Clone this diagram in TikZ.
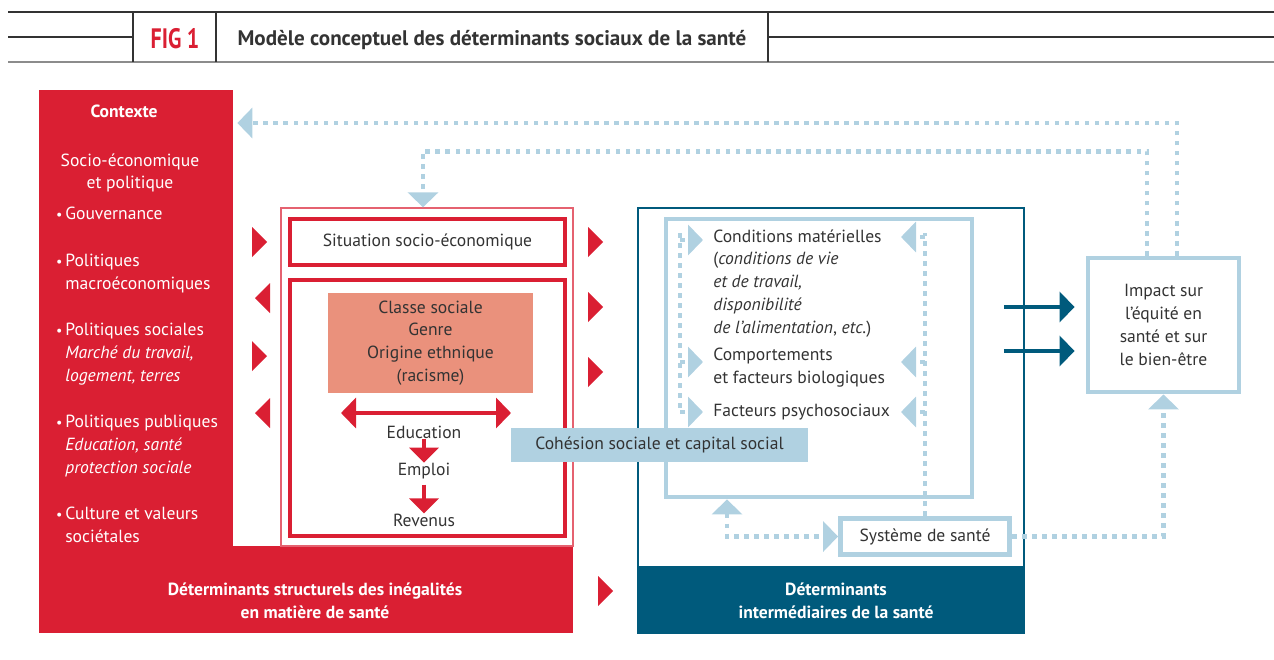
\documentclass[tikz,border=0pt]{standalone}
\usepackage{fontspec}
\setmainfont{PT Sans}
\usetikzlibrary{arrows.meta,positioning,calc}

\definecolor{sdhred}{HTML}{DA1F33}
\definecolor{sdhsalmon}{HTML}{EA917C}
\definecolor{sdhblue}{HTML}{005A7C}
\definecolor{sdhlight}{HTML}{B0D1E1}
\definecolor{sdhtext}{HTML}{333333}

\tikzset{
  txt/.style={text=sdhtext, inner sep=0pt, font=\fontsize{10}{13}\selectfont},
  wtxt/.style={text=white, inner sep=0pt, align=center, font=\fontsize{10}{13}\selectfont\bfseries},
  redbox/.style={draw=sdhred, line width=2.8pt, inner sep=0pt},
  lightbox/.style={draw=sdhlight, line width=2.8pt, inner sep=0pt},
  dotline/.style={sdhlight, line width=2.6pt, dash pattern=on 2.6pt off 3.1pt},
  bigtip/.style={-{Triangle[length=0.3cm,width=0.6cm]}},
  bothtips/.style={{Triangle[length=0.3cm,width=0.6cm]}-{Triangle[length=0.3cm,width=0.6cm]}},
}

\begin{document}
\begin{tikzpicture}[x=0.02cm, y=-0.02cm]
\useasboundingbox (0,0) rectangle (1274,659);

% header
\draw[sdhtext, line width=0.6pt] (8,12) -- (1274,12);
\draw[sdhtext, line width=0.6pt] (8,37) -- (133,37) (768,37) -- (1274,37);
\draw[black!45, line width=1.3pt] (8,62) -- (1274,62);
\draw[sdhtext, line width=0.6pt] (133,12) -- (133,62) (216,12) -- (216,62) (768,12) -- (768,62);
\node[txt, text=sdhred, font=\fontsize{16}{16}\selectfont\bfseries] (fig) at (175,39) {\scalebox{0.78}[1]{FIG 1}};
\node[txt, font=\fontsize{12}{14}\selectfont\bfseries] (title) at (492,40) {Modèle conceptuel des déterminants sociaux de la santé};

% contexte
\node[fill=sdhred, minimum width=3.88cm, minimum height=9.12cm, inner sep=0pt] (ctx) at (136,318) {};
\node[fill=sdhred, minimum width=10.68cm, minimum height=1.74cm, inner sep=0pt] (band) at (306,589.5) {};
\node[wtxt] (ctxhead) at (124,111) {Contexte};
\node[txt, text=white, align=center, anchor=north] (ctxsub) at (130,153) {Socio-économique\\et politique};
\node[txt, text=white, align=left, anchor=north west] (gov) at (65,207) {\llap{{\footnotesize\textbullet}\,}Gouvernance};
\node[txt, text=white, align=left, anchor=north west] (macro) at (65,254) {\llap{{\footnotesize\textbullet}\,}Politiques\\macroéconomiques};
\node[txt, text=white, align=left, anchor=north west] (soc) at (65,323) {\llap{{\footnotesize\textbullet}\,}Politiques sociales\\\textit{Marché du travail,}\\\textit{logement, terres}};
\node[txt, text=white, align=left, anchor=north west] (pub) at (65,415) {\llap{{\footnotesize\textbullet}\,}Politiques publiques\\\textit{Education, santé}\\\textit{protection sociale}};
\node[txt, text=white, align=left, anchor=north west] (cult) at (65,507) {\llap{{\footnotesize\textbullet}\,}Culture et valeurs\\sociétales};
\node[wtxt] (bandtxt) at (315,600.5) {Déterminants structurels des inégalités\\en matière de santé};

% determinants structurels
\node[draw=sdhred!70, line width=0.8pt, minimum width=5.84cm, minimum height=6.76cm, inner sep=0pt] (struct) at (427,377) {};
\node[redbox, txt, minimum width=5.5cm, minimum height=0.92cm] (sit) at (427.5,242) {Situation socio-économique};
\node[redbox, minimum width=5.5cm, minimum height=5.12cm] (pos) at (427.5,408) {};
\node[txt, fill=sdhsalmon, align=center, minimum width=4.1cm, minimum height=2cm] (grp) at (430.5,343) {Classe sociale\\Genre\\Origine ethnique\\(racisme)};
\coordinate (eduL) at (341,413);
\coordinate (eduR) at (511,413);
\draw[sdhred, line width=2.8pt, bothtips] (eduL) -- (eduR);
\node[txt] (edu) at (424,432) {Education};
\node[txt] (emp) at (424,471) {Emploi};
\node[txt] (rev) at (424,520) {Revenus};
\draw[sdhred, line width=2.8pt, -{Triangle[length=0.3cm,width=0.58cm]}] (edu.south) -- (emp.north);
\draw[sdhred, line width=2.8pt, -{Triangle[length=0.3cm,width=0.58cm]}, shorten <=3pt] (emp.south) -- (rev.north);

% determinants intermediaires
\node[draw=sdhblue, line width=0.9pt, minimum width=7.72cm, minimum height=8.5cm, inner sep=0pt] (inter) at (831,420.5) {};
\node[fill=sdhblue, minimum width=7.72cm, minimum height=1.34cm, inner sep=0pt] (interband) at (831,599.5) {};
\node[wtxt] (intertxt) at (836,600.5) {Déterminants\\intermédiaires de la santé};
\node[lightbox, minimum width=6.12cm, minimum height=5.56cm] (lbox) at (819,358) {};
\node[txt, align=left, anchor=north west] (mat) at (713,229) {Conditions matérielles\\(\textit{conditions de vie}\\\textit{et de travail,}\\\textit{disponibilité}\\\textit{de l’alimentation}, \textit{etc.})};
\node[txt, align=left, anchor=north west] (beh) at (713,348) {Comportements\\et facteurs biologiques};
\node[txt, anchor=north west] (psy) at (713,404) {Facteurs psychosociaux};

\node[lightbox, txt, fill=white, minimum width=3.38cm, minimum height=0.72cm] (sys) at (925,536.5) {Système de santé};
\node[lightbox, txt, align=center, minimum width=3.02cm, minimum height=2.68cm] (imp) at (1163.5,325) {Impact sur\\l’équité en\\santé et sur\\le bien-être};

% rails in the light box
\coordinate (railL) at (680,233);
\coordinate (railR) at (925,233);
\draw[dotline] (railL) -- (680,413);
\foreach \yy in {240,362,412} \draw[dotline, bigtip] (railL |- 0,\yy) -- (703,\yy);
\draw[dotline] (sys.north) -- (railR);
\foreach \yy in {237,362,412} \draw[dotline, bigtip] (railR |- 0,\yy) -- (901,\yy);

\node[txt, fill=sdhlight, minimum width=5.94cm, minimum height=0.68cm] (coh) at (659.5,445) {Cohésion sociale et capital social};

% feedback loops
\draw[dotline, bothtips] (lbox.south -| 727,0) |- (sys.west);
\draw[dotline, bigtip] (sys.east) -| (imp.south);
\draw[dotline, bigtip, shorten >=2.3pt] ($(imp.north)+(13.5,0)$) |- (ctx.east |- 0,123);
\draw[dotline, bigtip] ($(imp.north)+(-16.5,0)$) |- ($(struct.north)+(-4,-56)$) -- ($(struct.north)+(-4,0)$);

% impact arrows
\foreach \yy in {307,351} \draw[sdhblue, line width=2.8pt, bigtip] ($(inter.east |- 0,\yy)+(-21,0)$) -- ($(imp.west |- 0,\yy)+(-11,0)$);

% red triangles
\foreach \yy in {242,356} \fill[sdhred] (252,\yy-15) -- ++(15,15) -- ++(-15,15) -- cycle;
\foreach \yy in {298,413} \fill[sdhred] (270,\yy-15) -- ++(-15,15) -- ++(15,15) -- cycle;
\foreach \yy in {242,307,372} \fill[sdhred] (588,\yy-15) -- ++(15,15) -- ++(-15,15) -- cycle;
\fill[sdhred] (598,576) -- ++(15,15) -- ++(-15,15) -- cycle;
\end{tikzpicture}
\end{document}
